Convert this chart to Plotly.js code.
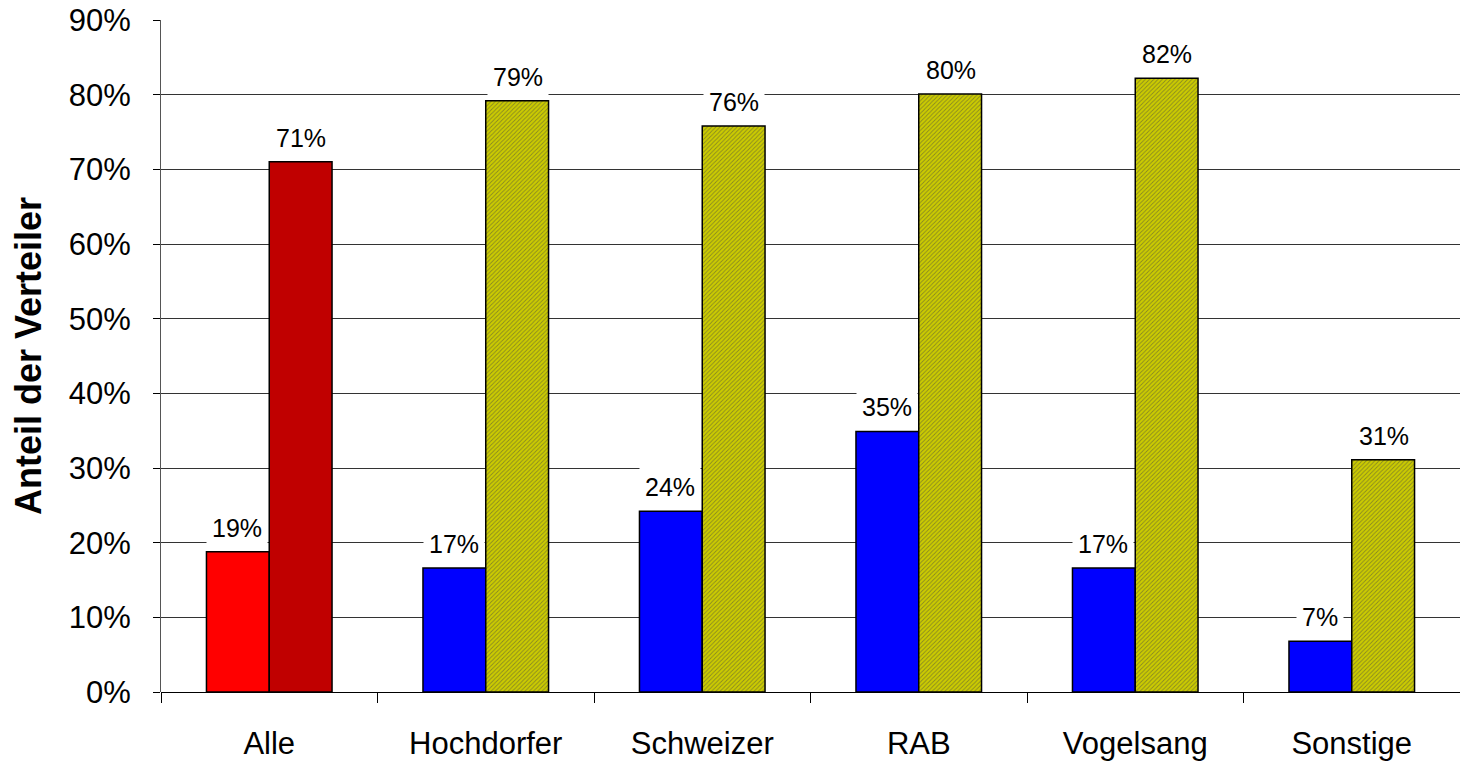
<!DOCTYPE html>
<html>
<head>
<meta charset="utf-8">
<script src="https://cdn.plot.ly/plotly-3.0.1.min.js"></script>
<style>html,body{margin:0;padding:0;background:#fff}#chart{width:1460px;height:762px}</style>
</head>
<body>
<div id="chart"></div>
<script>
const categories = ["Alle", "Hochdorfer", "Schweizer", "RAB", "Vogelsang", "Sonstige"];
const series1 = [18.8, 16.6, 24.2, 34.9, 16.6, 6.8];
const series2 = [71.0, 79.2, 75.8, 80.1, 82.2, 31.1];
const series1Colors = ["#ff0000", "#0000ff", "#0000ff", "#0000ff", "#0000ff", "#0000ff"];
const series2Colors = ["#c00000", "#cccc00", "#cccc00", "#cccc00", "#cccc00", "#cccc00"];
const series2Hatch = ["#a00000", "#a4a400", "#a4a400", "#a4a400", "#a4a400", "#a4a400"];
const series2Shapes = ["", "/", "/", "/", "/", "/"];
const yTickVals = [0, 10, 20, 30, 40, 50, 60, 70, 80, 90];
const yTickText = ["0%", "10%", "20%", "30%", "40%", "50%", "60%", "70%", "80%", "90%"];

const FONT = "'Liberation Sans', Arial, sans-serif";

const traces = [
  {
    type: "bar", x: categories, y: series1, name: "A",
    marker: { color: series1Colors, line: { color: "#000", width: 1.5 } },
    hoverinfo: "skip"
  },
  {
    type: "bar", x: categories, y: series2, name: "B",
    marker: {
      color: series2Colors,
      line: { color: "#000", width: 1.5 },
      pattern: { shape: series2Shapes, size: 3, solidity: 0.3, fgcolor: series2Hatch, fillmode: "overlay" }
    },
    hoverinfo: "skip"
  }
];

const annotations = [];
categories.forEach((c, i) => {
  annotations.push({ x: c, y: series1[i], xref: "x", yref: "y", text: Math.round(series1[i]) + "%",
    showarrow: false, xshift: -32, yshift: 24, bgcolor: "#fff", borderpad: 5,
    font: { family: FONT, size: 25, color: "#000" } });
  annotations.push({ x: c, y: series2[i], xref: "x", yref: "y", text: Math.round(series2[i]) + "%",
    showarrow: false, xshift: 32, yshift: 24, bgcolor: "#fff", borderpad: 5,
    font: { family: FONT, size: 25, color: "#000" } });
});

const layout = {
  width: 1460, height: 762,
  margin: { l: 161, r: 0, t: 20, b: 70 },
  paper_bgcolor: "#fff", plot_bgcolor: "#fff",
  showlegend: false,
  barmode: "group", bargap: 0.42, bargroupgap: 0,
  font: { family: FONT, color: "#000" },
  xaxis: {
    type: "category",
    tickson: "boundaries", ticks: "outside", ticklen: 10, tickcolor: "#000", tickwidth: 1,
    showline: false, showgrid: false, zeroline: false,
    tickfont: { family: FONT, size: 31, color: "#000" },
    ticklabelstandoff: 30,
    automargin: false
  },
  yaxis: {
    range: [0, 90], tickvals: yTickVals, ticktext: yTickText,
    ticks: "outside", ticklen: 7, tickcolor: "#000", tickwidth: 1,
    showline: true, linecolor: "#555", linewidth: 1,
    showgrid: true, gridcolor: "#333", gridwidth: 1,
    zeroline: true, zerolinecolor: "#000", zerolinewidth: 1,
    tickfont: { family: FONT, size: 31, color: "#000" },
    ticklabelstandoff: 16,
    title: { text: "<b>Anteil der Verteiler</b>", font: { family: FONT, size: 36, color: "#000" }, standoff: 16 },
    automargin: false
  },
  annotations: annotations
};

Plotly.newPlot("chart", traces, layout, { displayModeBar: false, staticPlot: true });
</script>
</body>
</html>
